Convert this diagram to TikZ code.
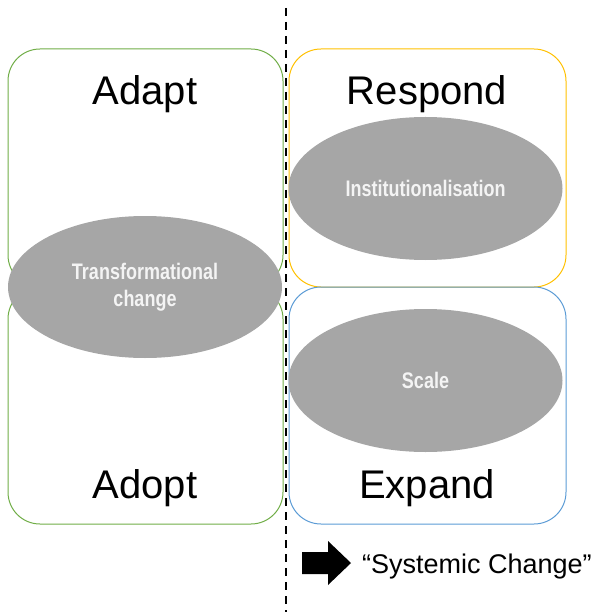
\documentclass[tikz,border=0pt]{standalone}
\usepackage{fontspec}
\setmainfont{Liberation Sans}
\newfontfamily\condfont[FakeStretch=0.8]{Liberation Sans}
\usetikzlibrary{shapes.geometric}
\definecolor{boxgreen}{HTML}{70AD47}
\definecolor{boxyellow}{HTML}{FFC000}
\definecolor{boxblue}{HTML}{5B9BD5}
\definecolor{ellgray}{HTML}{A6A6A6}
\definecolor{elltext}{HTML}{F4F4F4}
\tikzset{
  quadbox/.style={draw, line width=1pt, rectangle, rounded corners=32pt, fill=none, inner sep=0pt},
  blob/.style={ellipse, fill=ellgray, draw=none, inner sep=0pt, minimum width=274pt, text=elltext, align=center,
    font=\condfont\bfseries\fontsize{22.5}{27}\selectfont},
  biglabel/.style={anchor=base, font=\fontsize{40}{44}\selectfont, inner sep=0pt},
  divider/.style={line width=2.3pt, dash pattern=on 8pt off 6pt}
}
\begin{document}
\begin{tikzpicture}[x=1pt,y=-1pt]
\useasboundingbox (0,0) rectangle (597,612);
% quadrant boxes
\node[quadbox, draw=boxgreen, minimum width=275pt, minimum height=238pt] (adaptbox) at (145.5,168) {};
\node[quadbox, draw=boxgreen, minimum width=275pt, minimum height=237pt] (adoptbox) at (145.5,405.5) {};
\node[quadbox, draw=boxyellow, minimum width=277pt, minimum height=238pt] (respbox) at (427.5,168) {};
\node[quadbox, draw=boxblue, minimum width=277pt, minimum height=237pt] (expbox) at (427.5,405.5) {};
% labels
\node[biglabel] (adapt) at (145,105) {Adapt};
\node[biglabel] (respond) at (427,105) {Respond};
\node[biglabel] (adopt) at (145,498) {Adopt};
\node[biglabel] (expand) at (427,498) {Expand};
% ellipses
\node[blob, minimum height=142pt] (trans) at (145,287) {Transformational\\change};
\node[blob, minimum height=143pt] (inst) at (425.5,188.5) {Institutionalisation};
\node[blob, minimum height=143pt] (scale) at (425.5,380.5) {Scale};
% divider
\coordinate (dtop) at (286,8);
\coordinate (dbot) at (286,612);
\draw[divider] (dtop) -- (dbot);
% arrow and legend
\fill[black] (302,552) -- (328,552) -- (328,541) -- (351,563) -- (328,585) -- (328,574) -- (302,574) -- cycle;
\node[anchor=base west, inner sep=0pt, font=\fontsize{27}{30}\selectfont] (systemic) at (362,573) {“Systemic Change”};
\end{tikzpicture}
\end{document}
